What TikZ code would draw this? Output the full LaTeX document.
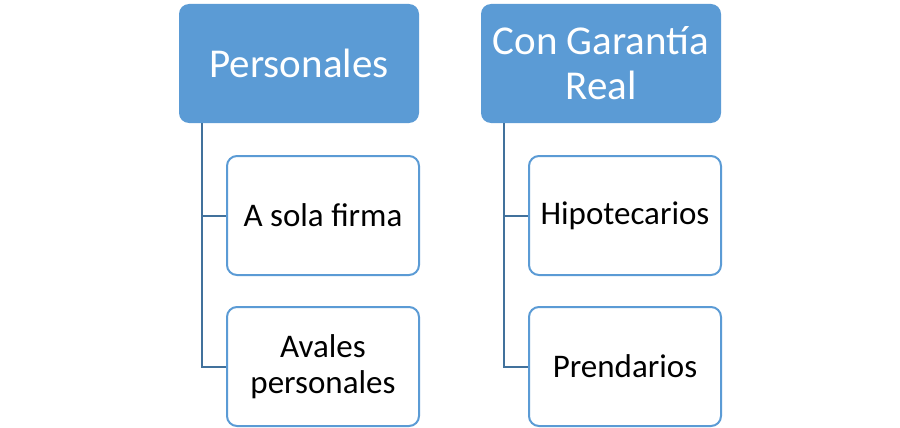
\documentclass[tikz,border=0pt]{standalone}
\usepackage{fontspec}
\setmainfont{Carlito}
\definecolor{parentblue}{HTML}{5B9BD5}
\definecolor{linkblue}{HTML}{41719C}
\begin{document}
\begin{tikzpicture}[x=1pt,y=-1pt,
  parentbox/.style={draw=none, fill=parentblue, rounded corners=10pt, minimum width=240pt, minimum height=119pt, inner sep=0pt, text=white, align=center, font=\fontsize{41}{45}\selectfont},
  childbox/.style={draw=parentblue, line width=2pt, fill=white, rounded corners=10pt, minimum width=192pt, minimum height=119pt, inner sep=0pt, text=black, align=center, font=\fontsize{33}{36}\selectfont},
  link/.style={draw=linkblue, line width=2pt}]
\path[use as bounding box] (0,0) rectangle (900,428);
\node[parentbox] (p) at (299,63.5) {Personales};
\node[parentbox] (g) at (601,63.5) {Con Garantía\\Real};
\node[childbox] (a) at (323,215.5) {A sola firma};
\node[childbox] (b) at (323,366.5) {Avales\\personales};
\node[childbox] (h) at (625,215.5) {Hipotecarios};
\node[childbox] (r) at (625,366.5) {Prendarios};
\coordinate (ps) at ([xshift=23pt]p.south west);
\coordinate (gs) at ([xshift=23pt]g.south west);
\draw[link] (ps) |- (a.west);
\draw[link] (ps) |- (b.west);
\draw[link] (gs) |- (h.west);
\draw[link] (gs) |- (r.west);
\end{tikzpicture}
\end{document}
